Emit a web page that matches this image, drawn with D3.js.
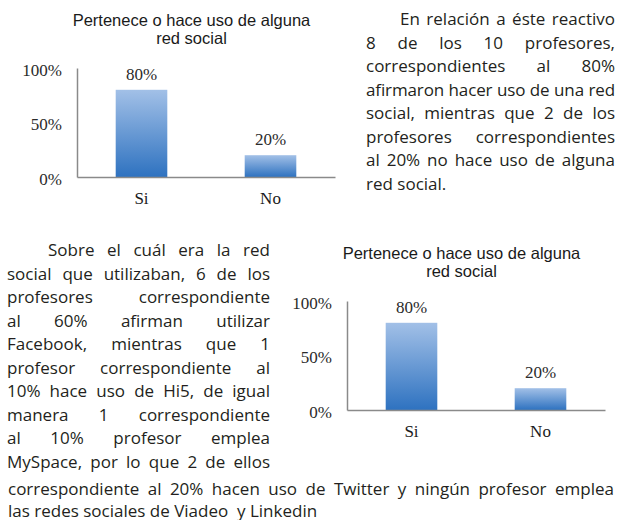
<!DOCTYPE html>
<html>
<head>
<meta charset="utf-8">
<script src="https://cdn.jsdelivr.net/npm/d3@7"></script>
<style>
  body { margin: 0; background: #fff; }
  svg { display: block; }
</style>
</head>
<body>
<div class="page"></div>
<script>
const categories = ["Si", "No"];
const percentValues = [80, 20];
const tickValues = [0, 50, 100];
const chartTitle = ["Pertenece o hace uso de alguna", "red social"];

const paragraphOne = [
  "En relación a éste reactivo",
  "8 de los 10 profesores,",
  "correspondientes al 80%",
  "afirmaron hacer uso de una red",
  "social, mientras que 2 de los",
  "profesores correspondientes",
  "al 20% no hace uso de alguna",
  "red social."
];

const paragraphTwo = [
  "Sobre el cuál era la red",
  "social que utilizaban, 6 de los",
  "profesores correspondiente",
  "al 60% afirman utilizar",
  "Facebook, mientras que 1",
  "profesor correspondiente al",
  "10% hace uso de Hi5, de igual",
  "manera 1 correspondiente",
  "al 10% profesor emplea",
  "MySpace,  por lo que 2 de ellos",
  "correspondiente al 20% hacen uso de Twitter y  ningún profesor emplea",
  "las redes sociales de Viadeo  y Linkedin"
];

const pageWidth = 624,
  pageHeight = 520,
  barTopColor = "#a2c0e7",
  barBottomColor = "#2e72c0",
  axisColor = "#8a8a8a",
  inkColor = "#231f20",
  bodyFont = "'Open Sans', 'Noto Sans', sans-serif",
  serifFont = "'Liberation Serif', 'DejaVu Serif', serif",
  minGap = 4.5;

const svg = d3
  .select(".page")
  .append("svg")
  .attr("width", pageWidth)
  .attr("height", pageHeight);

svg.append("rect").attr("width", pageWidth).attr("height", pageHeight).attr("fill", "white");

const gradient = svg
  .append("defs")
  .append("linearGradient")
  .attr("id", "barFill")
  .attr("x1", 0)
  .attr("y1", 0)
  .attr("x2", 0)
  .attr("y2", 1);
gradient.append("stop").attr("offset", "0%").attr("stop-color", barTopColor);
gradient.append("stop").attr("offset", "100%").attr("stop-color", barBottomColor);

function drawChart(left, top) {
  const chart = svg.append("g").attr("transform", `translate(${left}, ${top})`);

  const xScale = d3
    .scaleBand()
    .domain(categories)
    .range([77, 335])
    .paddingInner(0.6)
    .paddingOuter(0.3);

  const yScale = d3.scaleLinear().domain([0, 100]).range([177, 68]);

  chart
    .append("text")
    .attr("x", 191.5)
    .attr("y", 26)
    .attr("text-anchor", "middle")
    .style("font", "16.5px 'Liberation Sans', Arial, sans-serif")
    .attr("fill", "#1a1a1a")
    .selectAll("tspan")
    .data(chartTitle)
    .enter()
    .append("tspan")
    .attr("x", 191.5)
    .attr("dy", (d, i) => (i === 0 ? 0 : 17.5))
    .text((d) => d);

  chart
    .selectAll(".bar")
    .data(categories)
    .enter()
    .append("rect")
    .attr("x", (d) => xScale(d))
    .attr("y", (d, i) => yScale(percentValues[i]))
    .attr("width", xScale.bandwidth())
    .attr("height", (d, i) => yScale(0) - yScale(percentValues[i]))
    .attr("fill", "url(#barFill)");

  chart
    .selectAll(".value")
    .data(categories)
    .enter()
    .append("text")
    .attr("x", (d) => xScale(d) + xScale.bandwidth() / 2)
    .attr("y", (d, i) => yScale(percentValues[i]) - 10)
    .attr("text-anchor", "middle")
    .attr("fill", "#2b2b2b")
    .style("font", `17px ${serifFont}`)
    .text((d, i) => `${percentValues[i]}%`);

  const yAxis = d3
    .axisLeft(yScale)
    .tickValues(tickValues)
    .tickSize(0)
    .tickPadding(15)
    .tickFormat((d) => `${d}%`);

  const yAxisGroup = chart.append("g").attr("transform", "translate(77, 0)").call(yAxis);
  yAxisGroup.select(".domain").attr("stroke", axisColor).attr("stroke-width", 1.5);
  yAxisGroup
    .selectAll("text")
    .attr("dy", "0.42em")
    .attr("fill", "#2b2b2b")
    .style("font", `17px ${serifFont}`);

  const xAxis = d3.axisBottom(xScale).tickSize(0).tickPadding(15);

  const xAxisGroup = chart.append("g").attr("transform", "translate(0, 177)").call(xAxis);
  xAxisGroup.select(".domain").attr("stroke", axisColor).attr("stroke-width", 1.5);
  xAxisGroup
    .selectAll("text")
    .attr("fill", "#1a1a1a")
    .style("font", `17px ${serifFont}`);
}

drawChart(0, 0);
drawChart(270, 233);

// one line of body text, spread to the right edge when justified
function drawLine(line, x0, x1, y, justify) {
  const text = svg
    .append("text")
    .attr("y", y)
    .attr("fill", inkColor)
    .style("font", `17px ${bodyFont}`);

  if (!justify) {
    text.attr("x", x0).style("white-space", "pre").text(line);
    return;
  }

  const words = line.split(/\s+/);
  const spans = text
    .selectAll("tspan")
    .data(words)
    .enter()
    .append("tspan")
    .text((d) => d);

  let widths = spans.nodes().map((n) => n.getComputedTextLength());
  let gap = (x1 - x0 - d3.sum(widths)) / (words.length - 1);

  // too tight: squeeze the letters a little instead of letting words touch
  if (gap < minGap) {
    const chars = d3.sum(words, (w) => w.length);
    const squeeze = ((minGap - gap) * (words.length - 1)) / chars;
    text.style("letter-spacing", `${-squeeze}px`);
    widths = spans.nodes().map((n) => n.getComputedTextLength());
    gap = (x1 - x0 - d3.sum(widths)) / (words.length - 1);
  }

  const starts = widths.map((w, i) => x0 + d3.sum(widths.slice(0, i)) + gap * i);
  spans.attr("x", (d, i) => starts[i]);
}

paragraphOne.forEach((line, i) => {
  drawLine(line, i === 0 ? 400 : 366, 615, 25 + i * 23.5, i < paragraphOne.length - 1);
});

paragraphTwo.forEach((line, i) => {
  if (i < 10) {
    drawLine(line, i === 0 ? 48 : 7, 270, 256 + i * 23.5, true);
  } else {
    drawLine(line, 8, 614, 495 + (i - 10) * 21.5, i < paragraphTwo.length - 1);
  }
});
</script>
</body>
</html>
